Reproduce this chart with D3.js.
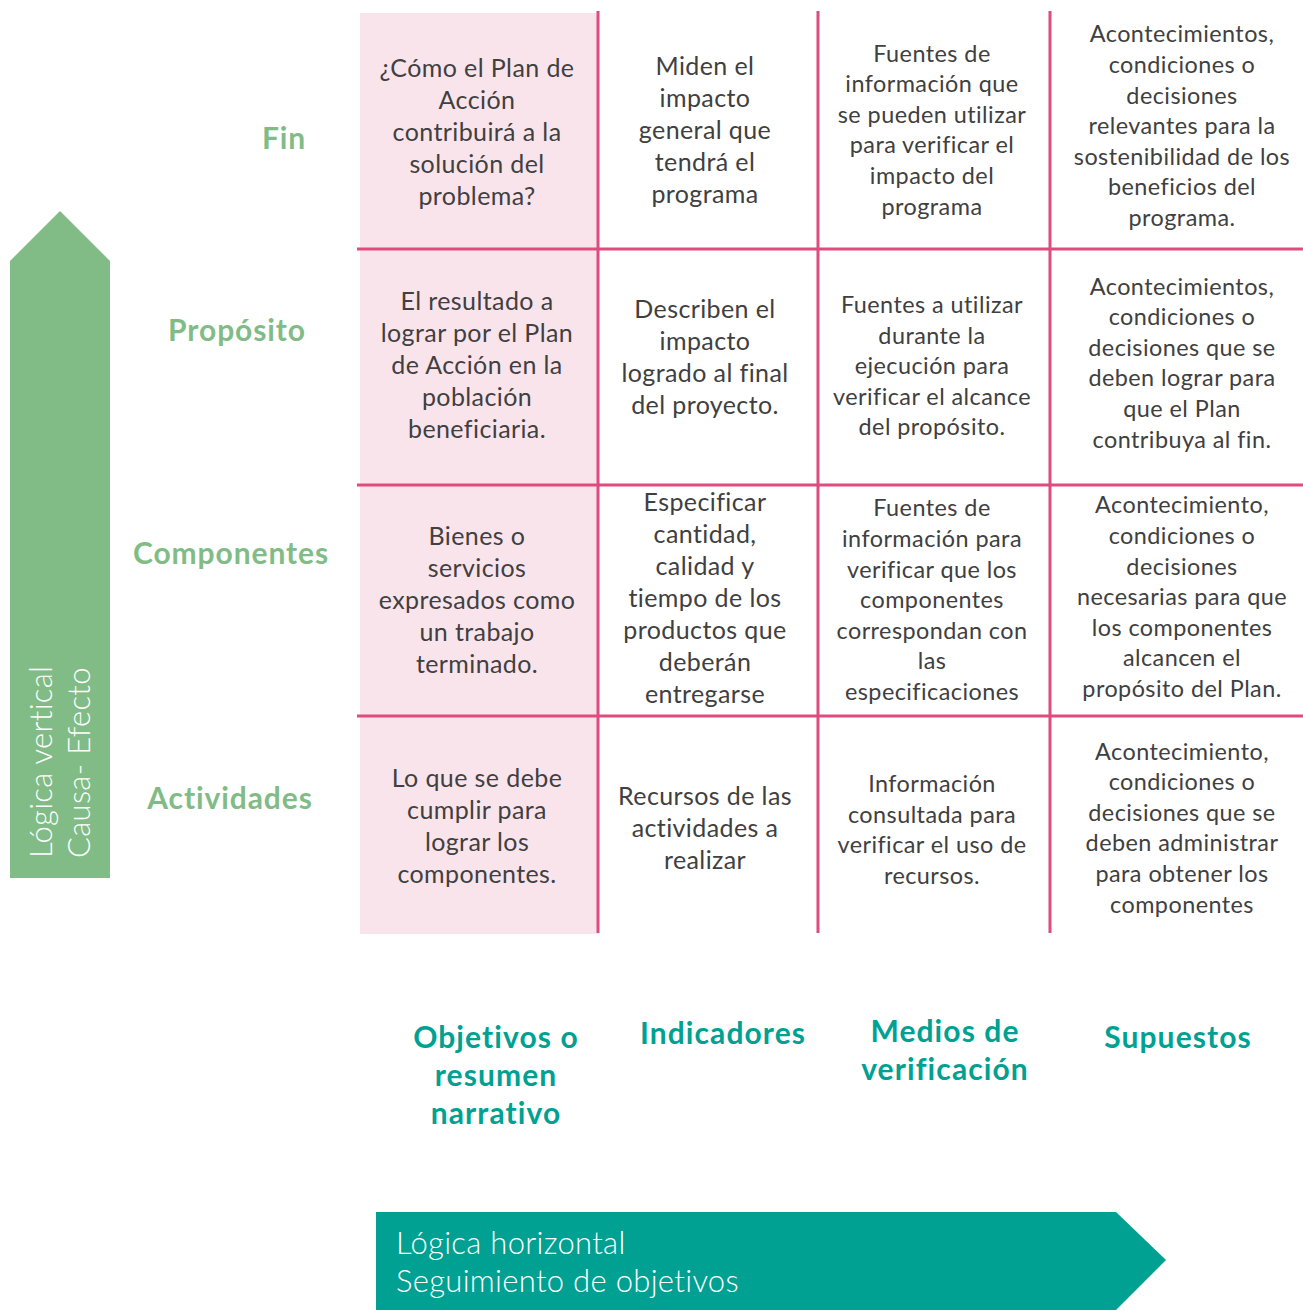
<!DOCTYPE html>
<html><head><meta charset="utf-8">
<script src="https://cdn.jsdelivr.net/npm/d3@7"></script>
<style>
html,body{margin:0;padding:0;background:#fff;}
svg{display:block;}
</style></head>
<body>
<script>
// ---- data ----
const rowLabels = ["Fin", "Propósito", "Componentes", "Actividades"];
const colLabels = [["Objetivos o", "resumen", "narrativo"], ["Indicadores"], ["Medios de", "verificación"], ["Supuestos"]];
const colKeys = ["objetivos", "indicadores", "medios", "supuestos"];
const cellsObjetivos = [
  ["¿Cómo el Plan de", "Acción", "contribuirá a la", "solución del", "problema?"],
  ["El resultado a", "lograr por el Plan", "de Acción en la", "población", "beneficiaria."],
  ["Bienes o", "servicios", "expresados como", "un trabajo", "terminado."],
  ["Lo que se debe", "cumplir para", "lograr los", "componentes."]
];
const cellsIndicadores = [
  ["Miden el", "impacto", "general que", "tendrá el", "programa"],
  ["Describen el", "impacto", "logrado al final", "del proyecto."],
  ["Especificar", "cantidad,", "calidad y", "tiempo de los", "productos que", "deberán", "entregarse"],
  ["Recursos de las", "actividades a", "realizar"]
];
const cellsMedios = [
  ["Fuentes de", "información que", "se pueden utilizar", "para verificar el", "impacto del", "programa"],
  ["Fuentes a utilizar", "durante la", "ejecución para", "verificar el alcance", "del propósito."],
  ["Fuentes de", "información para", "verificar que los", "componentes", "correspondan con", "las", "especificaciones"],
  ["Información", "consultada para", "verificar el uso de", "recursos."]
];
const cellsSupuestos = [
  ["Acontecimientos,", "condiciones o", "decisiones", "relevantes para la", "sostenibilidad de los", "beneficios del", "programa."],
  ["Acontecimientos,", "condiciones o", "decisiones que se", "deben lograr para", "que el Plan", "contribuya al fin."],
  ["Acontecimiento,", "condiciones o", "decisiones", "necesarias para que", "los componentes", "alcancen el", "propósito del Plan."],
  ["Acontecimiento,", "condiciones o", "decisiones que se", "deben administrar", "para obtener los", "componentes"]
];
const verticalArrowText = ["Lógica vertical", "Causa- Efecto"];
const horizontalArrowText = ["Lógica horizontal", "Seguimiento de objetivos"];

// ---- layout ----
const W = 1303, H = 1310;
const FONT = "Lato, 'Source Sans Pro', sans-serif";
const pinkLine = "#DE4B7C", pinkFill = "#FAE4EC", green = "#81BC86", teal = "#00A192", textCol = "#404040";
const rowEdges = [13, 249, 485, 716, 934];
const colEdges = [360, 598, 818, 1050, 1303];
const cellCenterX = [477, 705, 932, 1182];
const cellCenterY = [[132, 365, 600, 826], [130, 357, 598, 828], [130, 366, 600, 830], [126, 363, 597, 828]];
const cellFont = [25, 25, 23.4, 23.4], cellLH = [32, 32, 30.6, 30.6], cellLS = [0.4, 0.4, 0.45, 0.45];

const svg = d3.select("body").append("svg").attr("width", W).attr("height", H);

const yRow = d3.scaleOrdinal().domain(rowLabels).range(rowEdges.slice(0, 4));
const yRowEnd = d3.scaleOrdinal().domain(rowLabels).range(rowEdges.slice(1));
const xCol = d3.scaleOrdinal().domain(colKeys).range(colEdges.slice(0, 4));
const xColEnd = d3.scaleOrdinal().domain(colKeys).range(colEdges.slice(1));

// pink first column
svg.append("rect").attr("x", xCol("objetivos")).attr("y", yRow("Fin"))
  .attr("width", xColEnd("objetivos") - xCol("objetivos"))
  .attr("height", yRowEnd("Actividades") - yRow("Fin")).attr("fill", pinkFill);

// vertical arrow (green)
const va = {x0: 10, x1: 110, top: 211, shoulder: 261, bottom: 878};
svg.append("path").attr("fill", green)
  .attr("d", d3.line()([[va.x0, va.shoulder], [(va.x0 + va.x1) / 2, va.top], [va.x1, va.shoulder], [va.x1, va.bottom], [va.x0, va.bottom]]) + "Z");
const vt = svg.append("g").attr("transform", `translate(0,858) rotate(-90)`);
verticalArrowText.forEach((t, i) => {
  vt.append("text").attr("x", 0).attr("y", 52 + i * 38).attr("fill", "#fff")
    .attr("font-family", FONT).attr("font-size", 31).attr("font-weight", 300)
    .attr("letter-spacing", 0.3).text(t);
});

// horizontal arrow (teal)
const ha = {x0: 376, notch: 1116, tip: 1166, top: 1212, bottom: 1310};
const hmid = 1260;
svg.append("path").attr("fill", teal)
  .attr("d", d3.line()([[ha.x0, ha.top], [ha.notch, ha.top], [ha.tip, hmid], [ha.notch, ha.bottom], [ha.x0, ha.bottom]]) + "Z");
horizontalArrowText.forEach((t, i) => {
  svg.append("text").attr("x", 396).attr("y", 1254 + i * 38).attr("fill", "#fff")
    .attr("font-family", FONT).attr("font-size", 31).attr("font-weight", 300)
    .attr("letter-spacing", 0.3).text(t);
});

// grid lines
const hLines = rowLabels.slice(1);
svg.selectAll("line.h").data(hLines).join("line")
  .attr("x1", 357).attr("x2", W).attr("y1", d => yRow(d)).attr("y2", d => yRow(d))
  .attr("stroke", pinkLine).attr("stroke-width", 3);
const vLines = colKeys.slice(1);
svg.selectAll("line.v").data(vLines).join("line")
  .attr("x1", d => xCol(d)).attr("x2", d => xCol(d)).attr("y1", 11).attr("y2", 933)
  .attr("stroke", pinkLine).attr("stroke-width", 3);

// row labels
const rowLabelX = [284, 237, 231, 230], rowLabelY = [138, 330, 553, 798];
svg.selectAll("text.row").data(rowLabels).join("text").attr("class", "row")
  .attr("x", (d, i) => rowLabelX[i]).attr("y", (d, i) => rowLabelY[i]).attr("dy", "0.35em")
  .attr("text-anchor", "middle").attr("fill", green).attr("font-family", FONT)
  .attr("font-size", 30).attr("font-weight", 700).attr("letter-spacing", 0.9).text(d => d);

// cells
const allCells = [cellsObjetivos, cellsIndicadores, cellsMedios, cellsSupuestos];
allCells.forEach((col, ci) => {
  col.forEach((lines, ri) => {
    const n = lines.length, cy = cellCenterY[ci][ri];
    const g = svg.append("text").attr("text-anchor", "middle").attr("fill", textCol)
      .attr("font-family", FONT).attr("font-size", cellFont[ci]).attr("letter-spacing", cellLS[ci]);
    lines.forEach((l, li) => {
      g.append("tspan").attr("x", cellCenterX[ci])
        .attr("y", cy + (li - (n - 1) / 2) * cellLH[ci]).attr("dy", "0.35em").text(l);
    });
  });
});

// column headers
const headX = [496, 723, 945, 1178], headY = [1037, 1033, 1031, 1037];
colLabels.forEach((lines, i) => {
  const t = svg.append("text").attr("text-anchor", "middle").attr("fill", teal)
    .attr("font-family", FONT).attr("font-size", 30).attr("font-weight", 700).attr("letter-spacing", 1.1);
  lines.forEach((l, li) => {
    t.append("tspan").attr("x", headX[i]).attr("y", headY[i] + li * 38).attr("dy", "0.35em").text(l);
  });
});
</script>
</body></html>
